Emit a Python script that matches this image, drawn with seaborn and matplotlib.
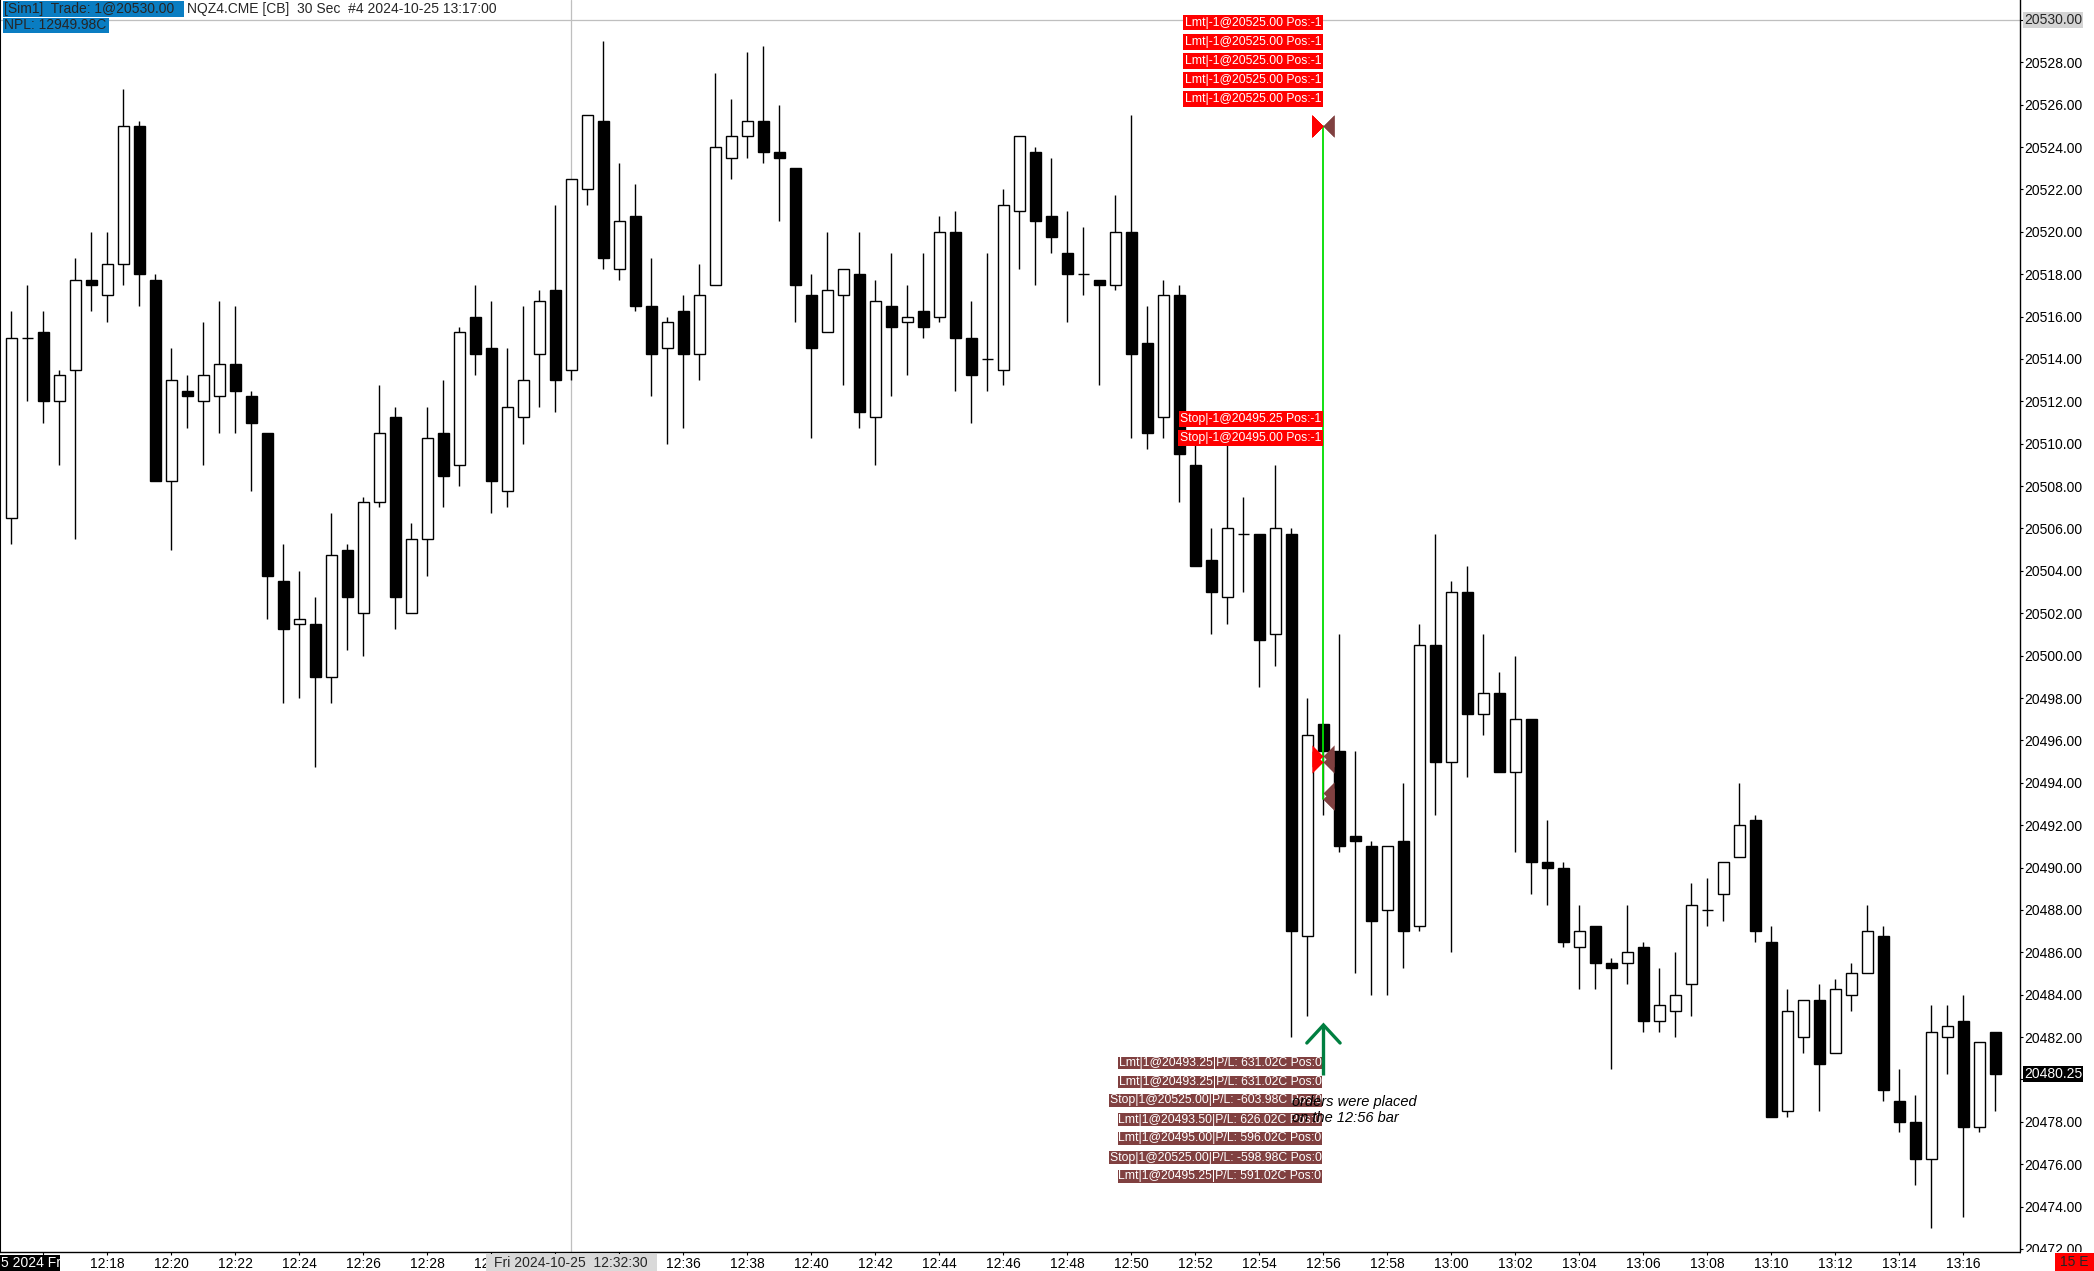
import numpy as np
import matplotlib
matplotlib.use("Agg")
import matplotlib.pyplot as plt
from matplotlib.patches import Rectangle
from matplotlib.transforms import blended_transform_factory, ScaledTranslation
import seaborn as sns

W, H = 2094, 1271
DPI = 100

# 30 second bars, NQZ4, 12:15:00 -> 13:17:00
first_bar = "12:15:00"

opens = [
    20506.5, 20515.0, 20515.25, 20512.0, 20513.5, 20517.75, 20517.0, 20518.5, 20525.0, 20517.75,
    20508.25, 20512.5, 20512.0, 20512.25, 20513.75, 20512.25, 20510.5, 20503.5, 20501.5, 20501.5,
    20499.0, 20505.0, 20502.0, 20507.25, 20511.25, 20502.0, 20505.5, 20510.5, 20509.0, 20516.0,
    20514.5, 20507.75, 20511.25, 20514.25, 20517.25, 20513.5, 20522.0, 20525.25, 20518.25, 20520.75,
    20516.5, 20514.5, 20516.25, 20514.25, 20517.5, 20523.5, 20524.5, 20525.25, 20523.75, 20523.0,
    20517.0, 20515.25, 20517.0, 20518.0, 20511.25, 20516.5, 20515.75, 20516.25, 20516.0, 20520.0,
    20515.0, 20514.0, 20513.5, 20521.0, 20523.75, 20520.75, 20519.0, 20518.0, 20517.75, 20517.5,
    20520.0, 20514.75, 20511.25, 20517.0, 20509.0, 20504.5, 20502.75, 20505.75, 20505.75, 20501.0,
    20505.75, 20486.75, 20496.75, 20495.5, 20491.5, 20491.0, 20488.0, 20491.25, 20487.25, 20500.5,
    20495.0, 20503.0, 20497.25, 20498.25, 20494.5, 20497.0, 20490.25, 20490.0, 20486.25, 20487.25,
    20485.5, 20485.5, 20486.25, 20482.75, 20483.25, 20484.5, 20488.0, 20488.75, 20490.5, 20492.25,
    20486.5, 20478.5, 20482.0, 20483.75, 20481.25, 20484.0, 20485.0, 20486.75, 20479.0, 20478.0,
    20476.25, 20482.0, 20482.75, 20477.75, 20482.25,
]
highs = [
    20516.25, 20517.5, 20516.25, 20513.5, 20518.75, 20520.0, 20520.0, 20526.75, 20525.25, 20518.0,
    20514.5, 20513.25, 20515.75, 20516.75, 20516.5, 20512.5, 20510.5, 20505.25, 20504.0, 20502.75,
    20506.75, 20505.25, 20507.5, 20512.75, 20511.75, 20506.25, 20511.75, 20513.0, 20515.5, 20517.5,
    20516.75, 20514.5, 20516.5, 20517.25, 20521.25, 20522.5, 20525.5, 20529.0, 20523.25, 20522.25,
    20518.75, 20516.0, 20517.0, 20518.5, 20527.5, 20526.25, 20528.5, 20528.75, 20526.0, 20523.0,
    20518.0, 20520.0, 20518.25, 20520.0, 20517.75, 20519.0, 20517.5, 20519.0, 20520.75, 20521.0,
    20516.75, 20519.0, 20522.0, 20524.5, 20524.0, 20523.5, 20521.0, 20520.25, 20517.75, 20521.75,
    20525.5, 20516.5, 20517.75, 20517.5, 20510.0, 20506.0, 20510.0, 20507.5, 20505.75, 20509.0,
    20506.0, 20498.0, 20496.75, 20501.0, 20495.5, 20491.25, 20491.0, 20494.0, 20501.5, 20505.75,
    20503.5, 20504.25, 20501.0, 20499.25, 20500.0, 20497.0, 20492.25, 20490.25, 20488.25, 20487.25,
    20485.75, 20488.25, 20486.5, 20485.25, 20486.0, 20489.25, 20489.5, 20490.25, 20494.0, 20492.5,
    20487.25, 20484.25, 20483.75, 20484.5, 20484.75, 20485.5, 20488.25, 20487.25, 20480.5, 20479.25,
    20483.5, 20483.5, 20484.0, 20481.75, 20482.25,
]
lows = [
    20505.25, 20512.0, 20511.0, 20509.0, 20505.5, 20516.25, 20515.75, 20517.5, 20516.5, 20508.25,
    20505.0, 20510.75, 20509.0, 20510.5, 20510.5, 20507.75, 20501.75, 20497.75, 20498.0, 20494.75,
    20497.75, 20500.25, 20500.0, 20507.0, 20501.25, 20502.0, 20503.75, 20507.0, 20508.0, 20513.25,
    20506.75, 20507.0, 20510.0, 20511.75, 20511.5, 20513.0, 20521.25, 20518.25, 20517.75, 20516.25,
    20512.25, 20510.0, 20510.75, 20513.0, 20517.5, 20522.5, 20523.5, 20523.25, 20520.5, 20515.75,
    20510.25, 20515.25, 20512.75, 20510.75, 20509.0, 20512.25, 20513.25, 20515.0, 20515.75, 20512.5,
    20511.0, 20512.5, 20512.75, 20518.25, 20517.5, 20519.0, 20515.75, 20517.0, 20512.75, 20517.25,
    20510.25, 20509.75, 20510.25, 20507.25, 20504.25, 20501.0, 20501.5, 20503.0, 20498.5, 20499.5,
    20482.0, 20483.0, 20492.5, 20490.75, 20485.0, 20484.0, 20484.0, 20485.25, 20487.0, 20492.5,
    20486.0, 20494.25, 20496.25, 20494.5, 20490.75, 20488.75, 20488.25, 20486.25, 20484.25, 20484.25,
    20480.5, 20484.5, 20482.25, 20482.25, 20482.0, 20483.0, 20487.25, 20487.5, 20490.5, 20486.5,
    20478.25, 20478.25, 20481.25, 20478.5, 20481.25, 20483.25, 20485.0, 20479.0, 20477.5, 20475.0,
    20473.0, 20480.25, 20473.5, 20477.5, 20478.5,
]
closes = [
    20515.0, 20515.0, 20512.0, 20513.25, 20517.75, 20517.5, 20518.5, 20525.0, 20518.0, 20508.25,
    20513.0, 20512.25, 20513.25, 20513.75, 20512.5, 20511.0, 20503.75, 20501.25, 20501.75, 20499.0,
    20504.75, 20502.75, 20507.25, 20510.5, 20502.75, 20505.5, 20510.25, 20508.5, 20515.25, 20514.25,
    20508.25, 20511.75, 20513.0, 20516.75, 20513.0, 20522.5, 20525.5, 20518.75, 20520.5, 20516.5,
    20514.25, 20515.75, 20514.25, 20517.0, 20524.0, 20524.5, 20525.25, 20523.75, 20523.5, 20517.5,
    20514.5, 20517.25, 20518.25, 20511.5, 20516.75, 20515.5, 20516.0, 20515.5, 20520.0, 20515.0,
    20513.25, 20514.0, 20521.25, 20524.5, 20520.5, 20519.75, 20518.0, 20518.0, 20517.5, 20520.0,
    20514.25, 20510.5, 20517.0, 20509.5, 20504.25, 20503.0, 20506.0, 20505.75, 20500.75, 20506.0,
    20487.0, 20496.25, 20495.5, 20491.0, 20491.25, 20487.5, 20491.0, 20487.0, 20500.5, 20495.0,
    20503.0, 20497.25, 20498.25, 20494.5, 20497.0, 20490.25, 20490.0, 20486.5, 20487.0, 20485.5,
    20485.25, 20486.0, 20482.75, 20483.5, 20484.0, 20488.25, 20488.0, 20490.25, 20492.0, 20487.0,
    20478.25, 20483.25, 20483.75, 20480.75, 20484.25, 20485.0, 20487.0, 20479.5, 20478.0, 20476.25,
    20482.25, 20482.5, 20477.75, 20481.75, 20480.25,
]

time_labels = [
    "12:16", "12:18", "12:20", "12:22", "12:24", "12:26", "12:28", "12:30",
    "12:32", "12:34", "12:36", "12:38", "12:40", "12:42", "12:44", "12:46",
    "12:48", "12:50", "12:52", "12:54", "12:56", "12:58", "13:00", "13:02",
    "13:04", "13:06", "13:08", "13:10", "13:12", "13:14", "13:16",
]
# time labels hidden behind the date box and the crosshair time box
hidden_time_labels = ["12:16", "12:32", "12:34"]
price_ticks = [20472, 20474, 20476, 20478, 20480, 20482, 20484, 20486, 20488, 20490,
               20492, 20494, 20496, 20498, 20500, 20502, 20504, 20506, 20508, 20510,
               20512, 20514, 20516, 20518, 20520, 20522, 20524, 20526, 20528, 20530]
# price labels covered by the crosshair / last price flags
hidden_price_labels = [20480, 20530]

# orders / executions, all on the 12:56 bar
trade_time = "12:56:00"
entry_prices = [20525.00, 20525.00, 20525.00, 20525.00, 20525.00, 20495.25, 20495.00]
exit_prices = [20493.25, 20493.25, 20525.00, 20493.50, 20495.00, 20525.00, 20495.25]
limit_labels = ["Lmt|-1@20525.00 Pos:-1"] * 5
stop_labels = ["Stop|-1@20495.25 Pos:-1", "Stop|-1@20495.00 Pos:-1"]
exit_labels = [
    "Lmt|1@20493.25|P/L: 631.02C Pos:0",
    "Lmt|1@20493.25|P/L: 631.02C Pos:0",
    "Stop|1@20525.00|P/L: -603.98C Pos:0",
    "Lmt|1@20493.50|P/L: 626.02C Pos:0",
    "Lmt|1@20495.00|P/L: 596.02C Pos:0",
    "Stop|1@20525.00|P/L: -598.98C Pos:0",
    "Lmt|1@20495.25|P/L: 591.02C Pos:0",
]
crosshair_time = "12:32:30"
crosshair_price = 20530.00

BLUE = "#0a7dc2"
RED = "#ff0000"
BROWN = "#804040"
GREEN = "#00dd00"
ARROW_GREEN = "#007f40"
XHAIR = "#bfbfbf"


def fx(px):
    return px / W


def fy(py):
    return 1 - py / H


def bar_index(t):
    def secs(s):
        parts = [int(v) for v in s.split(":")]
        while len(parts) < 3:
            parts.append(0)
        return parts[0] * 3600 + parts[1] * 60 + parts[2]
    return (secs(t) - secs(first_bar)) // 30


sns.set_theme(style="white")
plt.rcParams["font.family"] = ["Liberation Sans", "DejaVu Sans"]

fig = plt.figure(figsize=(W / DPI, H / DPI), dpi=DPI, facecolor="white")
ax = fig.add_axes([0, fy(1251.5), 2019.5 / W, 1251.5 / H])
ax.set_facecolor("white")

# candles
x = np.arange(len(closes))
o = np.array(opens)
c = np.array(closes)
up = c >= o
body_lo = np.minimum(o, c)
body_h = np.abs(c - o)

ax.vlines(x, lows, highs, color="black", lw=1.0, zorder=2)
ax.bar(x[up], body_h[up], bottom=body_lo[up], width=0.65,
       color="white", edgecolor="black", linewidth=1.0, zorder=3)
ax.bar(x[~up], body_h[~up], bottom=body_lo[~up], width=0.65,
       color="black", edgecolor="black", linewidth=1.0, zorder=3)

ax.set_xlim(-0.7125, 125.5)
ax.set_ylim(20471.88, 20530.94)

# crosshair
xh = bar_index(crosshair_time)
ax.axvline(xh, color=XHAIR, lw=0.9, zorder=1)
ax.axhline(crosshair_price, color=XHAIR, lw=0.9, zorder=1)

# axes / ticks
ax.set_xticks([bar_index(t) for t in time_labels],
              ["" if t in hidden_time_labels else t for t in time_labels])
ax.set_yticks(price_ticks,
              ["" if p in hidden_price_labels else f"{p:.2f}" for p in price_ticks])
ax.yaxis.tick_right()
ax.tick_params(axis="y", right=True, left=False, length=2.2, width=0.8,
               pad=1.0, labelsize=10, colors="black")
ax.tick_params(axis="x", bottom=True, length=2.2, width=0.8,
               pad=1.5, labelsize=10, colors="black")
ax.grid(False)
ax.spines["top"].set_visible(False)
for side in ["left", "right", "bottom"]:
    ax.spines[side].set_color("black")
    ax.spines[side].set_linewidth(1.0)
ax.spines["left"].set_linewidth(1.5)

# executions
tb = bar_index(trade_time)
tri_right = [(-1, 1), (-1, -1), (0, 0)]
tri_left = [(1, 1), (1, -1), (0, 0)]
ax.plot([tb, tb], [max(entry_prices), min(exit_prices)], color=GREEN, lw=1.3, zorder=6)
ax.plot([tb] * len(entry_prices), entry_prices, ls="none", marker=tri_right,
        ms=16, mfc=RED, mec="none", zorder=7)
ax.plot([tb] * len(exit_prices), exit_prices, ls="none", marker=tri_left,
        ms=16, mfc=BROWN, mec="none", zorder=7)

# order labels, right edge on the trade bar
lab_tr = blended_transform_factory(ax.transData, fig.transFigure) + \
    ScaledTranslation(-2 / DPI, 0, fig.dpi_scale_trans)
limit_rows = [99, 80, 61, 42, 22.7]
stop_rows = [419, 438]
exit_rows = [1063, 1082, 1100.5, 1119.5, 1138.5, 1157.5, 1176.5]
for txt, py in zip(limit_labels, limit_rows):
    ax.text(tb, fy(py), txt, transform=lab_tr, ha="right", va="center",
            fontsize=8.8, color="white", zorder=8,
            bbox=dict(boxstyle="square,pad=0.14", fc=RED, ec="none"))
for txt, py in zip(stop_labels, stop_rows):
    ax.text(tb, fy(py), txt, transform=lab_tr, ha="right", va="center",
            fontsize=8.8, color="white", zorder=8,
            bbox=dict(boxstyle="square,pad=0.14", fc=RED, ec="none"))
for txt, py in zip(exit_labels, exit_rows):
    ax.text(tb, fy(py), txt, transform=lab_tr, ha="right", va="center",
            fontsize=8.8, color="white", zorder=8,
            bbox=dict(boxstyle="square,pad=0.03", fc=BROWN, ec="none"))

# green up arrow under the 12:56 bar
arr_tr = blended_transform_factory(ax.transData, fig.transFigure)
ax.plot([tb - 1.04, tb, tb + 1.04], [fy(1043), fy(1025), fy(1043)], transform=arr_tr,
        color=ARROW_GREEN, lw=2.4, solid_capstyle="round", solid_joinstyle="miter", zorder=9)
ax.plot([tb, tb], [fy(1026), fy(1075)], transform=arr_tr,
        color=ARROW_GREEN, lw=2.4, solid_capstyle="butt", zorder=9)

fig.text(fx(1292), fy(1110), "orders were placed\non the 12:56 bar", style="italic",
         fontsize=10.5, ha="left", va="center", linespacing=1.25, color="black", zorder=10)

# header
fig.add_artist(Rectangle((fx(2.7), fy(16.7)), fx(181), 16 / H, transform=fig.transFigure,
                         fc=BLUE, ec="none", zorder=4))
fig.add_artist(Rectangle((fx(2.7), fy(33)), fx(106.3), 15.3 / H, transform=fig.transFigure,
                         fc=BLUE, ec="none", zorder=4))
fig.text(fx(3.5), fy(8.7), "[Sim1]  Trade: 1@20530.00", fontsize=10, va="center", zorder=5)
fig.text(fx(187), fy(8.7), "NQZ4.CME [CB]  30 Sec  #4 2024-10-25 13:17:00",
         fontsize=10, va="center", zorder=5)
fig.text(fx(3.5), fy(25.3), "NPL: 12949.98C", fontsize=10, va="center", zorder=5)

# price axis flags
fig.text(fx(2024), fy(20), f"{crosshair_price:.2f}", fontsize=10, va="center", zorder=5,
         bbox=dict(boxstyle="square,pad=0.08", fc="#d4d4d4", ec="none"))
last_tr = blended_transform_factory(fig.transFigure, ax.transData)
fig.text(fx(2024), closes[-1], f"{closes[-1]:.2f}", transform=last_tr, fontsize=10,
         va="center", color="white", zorder=5,
         bbox=dict(boxstyle="square,pad=0.08", fc="black", ec="none"))

# bottom strip: clip the cut 20472 label, timer, date and crosshair time
fig.add_artist(Rectangle((fx(2021), 0), fx(73), 19 / H, transform=fig.transFigure,
                         fc="white", ec="none", zorder=3.5))
fig.add_artist(Rectangle((fx(2055), 0), fx(39), 18 / H, transform=fig.transFigure,
                         fc=RED, ec="none", zorder=4))
fig.text(fx(2074.5), fy(1262.5), "15 E", fontsize=10, ha="center", va="center", zorder=5)

fig.add_artist(Rectangle((0, 0), fx(60), 16 / H, transform=fig.transFigure,
                         fc="black", ec="none", zorder=4))
fig.text(fx(1), fy(1263), "5 2024 Fr", fontsize=10, color="white", va="center", zorder=5)

fig.add_artist(Rectangle((fx(485.6), 0), fx(171.1), 17 / H, transform=fig.transFigure,
                         fc="#d9d9d9", ec="none", zorder=4))
fig.text(fx(571), fy(1263), "Fri 2024-10-25  12:32:30", fontsize=10,
         ha="center", va="center", zorder=5)

fig.savefig("out.png", dpi=DPI, facecolor="white")
